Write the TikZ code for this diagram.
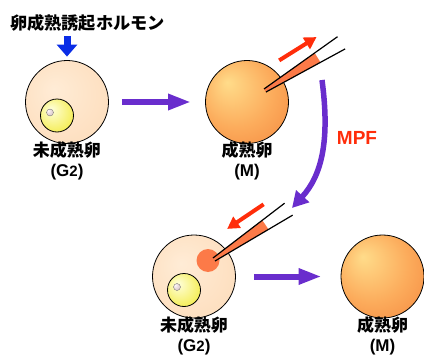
\documentclass[tikz,border=0pt]{standalone}
\usepackage{fontspec}
\usetikzlibrary{arrows.meta, positioning, shapes}
\newfontfamily\jp{Noto Sans CJK JP}
\newfontfamily\lat{Liberation Sans}

\definecolor{palecore}{RGB}{255,236,214}
\definecolor{palerim}{RGB}{252,214,176}
\definecolor{ripecore}{RGB}{255,220,138}
\definecolor{ripemid}{RGB}{252,172,92}
\definecolor{riperim}{RGB}{240,118,48}
\definecolor{yolkcore}{RGB}{255,255,220}
\definecolor{yolkrim}{RGB}{238,226,0}
\definecolor{dotcore}{RGB}{255,250,250}
\definecolor{dotrim}{RGB}{190,160,165}
\definecolor{spotorange}{RGB}{252,122,72}
\definecolor{hormoneblue}{RGB}{10,45,230}
\definecolor{stagepurple}{RGB}{105,45,205}
\definecolor{flowred}{RGB}{255,45,10}

\pgfdeclareradialshading{paleegg}{\pgfpoint{-8bp}{8bp}}{color(0bp)=(palecore); color(50bp)=(palerim)}
\pgfdeclareradialshading{ripeegg}{\pgfpoint{-12bp}{12bp}}{color(0bp)=(ripecore); color(22bp)=(ripemid); color(50bp)=(riperim)}
\pgfdeclareradialshading{yolk}{\pgfpoint{-10bp}{10bp}}{color(0bp)=(yolkcore); color(50bp)=(yolkrim)}
\pgfdeclareradialshading{nucleolus}{\pgfpoint{-15bp}{15bp}}{color(0bp)=(dotcore); color(50bp)=(dotrim)}

\tikzset{
  pics/pipette/.style={code={
    \fill[spotorange] (0,-1.8) -- (62,-5.6) -- (62,5.6) -- (0,1.8) -- cycle;
    \draw[line width=1.2pt] (0,-1.8) -- (90,-7.2) (0,1.8) -- (90,7.2);
    \draw[flow arrow,#1] (28,-18) -- (72,-18);
  }}
}

\begin{document}
\begin{tikzpicture}[x=1pt, y=-1pt,
    egg/.style={circle, draw, line width=0.8pt, minimum size=83pt, inner sep=0pt},
    immature/.style={egg, shading=paleegg},
    mature/.style={egg, shading=ripeegg},
    nucleus/.style={circle, draw, line width=0.8pt, minimum size=33pt, inner sep=0pt, shading=yolk},
    dot/.style={circle, draw=black!60, line width=0.3pt, minimum size=7pt, inner sep=0pt, shading=nucleolus},
    spot/.style={circle, fill=spotorange, minimum size=23pt, inner sep=0pt},
    caption/.style={align=center, inner sep=1pt, font=\bfseries\fontsize{17}{20}\selectfont},
    stage arrow/.style={stagepurple, line width=6pt, -{Triangle[width=15pt,length=23pt]}},
    hormone arrow/.style={hormoneblue, line width=7pt, -{Triangle[width=20pt,length=12pt]}},
    flow arrow/.style={flowred, line width=4pt, >={Triangle[width=13pt,length=12pt]}},
    mpf arrow/.style={stagepurple, line width=5.5pt, -{Triangle[width=17pt,length=16pt]}}]
  \useasboundingbox (0,0) rectangle (424,359);

  % top row
  \node[font=\jp\bfseries\fontsize{17.2}{20}\selectfont] (hormone) at (87.5,22.5) {卵成熟誘起ホルモン};
  \node[immature] (egg1) at (67,102) {};
  \node[nucleus] (nuc1) at ([shift={(-10,13.5)}]egg1.center) {};
  \node[dot] (dot1) at ([shift={(-7,-3)}]nuc1.center) {};
  \node[caption, below=-3pt of egg1] (cap1) {{\jp 未成熟卵}\\{\lat (G{\fontsize{15}{15}\selectfont 2})}};

  \node[mature] (egg2) at (247,102) {};
  \node[caption, below=-3pt of egg2] (cap2) {{\jp 成熟卵}\\{\lat (M)}};
  \pic[rotate=32] at (265,90.5) {pipette=->};

  \draw[hormone arrow, shorten <=2pt, shorten >=3.5pt] (hormone.south -| egg1) -- (egg1);
  \draw[stage arrow, shorten <=13pt, shorten >=14pt] (egg1) -- (egg2);

  % MPF transfer
  \coordinate (mpf top) at (322,80);
  \coordinate (mpf end) at (292,208);
  \draw[mpf arrow] (mpf top) .. controls (330,140) and (322,175) .. (mpf end);
  \node[text=flowred, font=\lat\bfseries\fontsize{19}{19}\selectfont] (mpf) at (357,138) {MPF};

  % bottom row
  \node[immature] (egg3) at (194,276.5) {};
  \node[spot] (spot3) at ([shift={(14,-16)}]egg3.center) {};
  \node[nucleus] (nuc3) at ([shift={(-10,13.5)}]egg3.center) {};
  \node[dot] (dot3) at ([shift={(-7,-3)}]nuc3.center) {};
  \node[caption, below=-3pt of egg3] (cap3) {{\jp 未成熟卵}\\{\lat (G{\fontsize{15}{15}\selectfont 2})}};
  \pic[rotate=34] at (214,259.5) {pipette=<-};

  \node[mature] (egg4) at (382.5,276.5) {};
  \node[caption, below=-3pt of egg4] (cap4) {{\jp 成熟卵}\\{\lat (M)}};

  \draw[stage arrow, shorten <=18pt, shorten >=19pt] (egg3) -- (egg4);
\end{tikzpicture}
\end{document}
